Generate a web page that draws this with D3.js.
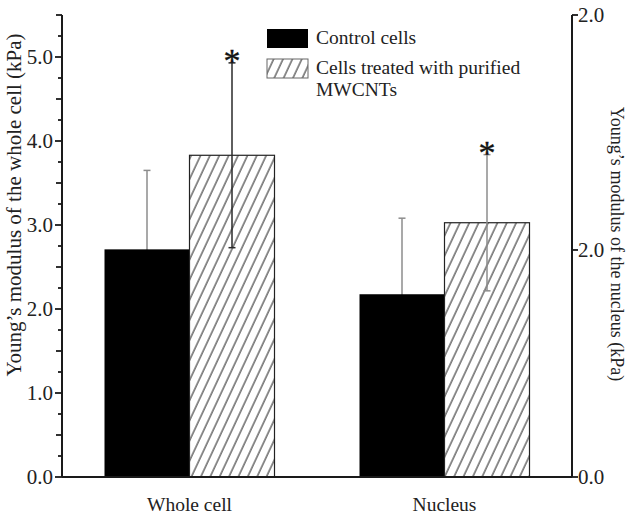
<!DOCTYPE html>
<html>
<head>
<meta charset="utf-8">
<script src="https://cdn.jsdelivr.net/npm/d3@7"></script>
<style>
  html, body { margin: 0; padding: 0; background: #fff; }
  svg { display: block; }
  svg text { font-family: "Liberation Serif", "Times New Roman", serif; }
</style>
</head>
<body>
<svg id="chart" width="636" height="522"></svg>
<script>
// ---- data ----
const categories = ["Whole cell", "Nucleus"];
const seriesNames = ["Control cells", "Cells treated with purified MWCNTs"];
// Whole cell values in kPa (left axis); nucleus values in right-axis units
const controlMeans = [2.71, 1.61];
const controlErrors = [0.94, 0.67];
const treatedMeans = [3.83, 2.24];
const treatedErrors = [1.10, 0.60];
const significant = [true, true];
const leftTickValues = [0, 1, 2, 3, 4, 5];
const leftTickLabels = ["0.0", "1.0", "2.0", "3.0", "4.0", "5.0"];
const rightTickValues = [0, 2, 4.07];
const rightTickLabels = ["0.0", "2.0", "2.0"];
const leftAxisTitle = "Young\u2019s modulus of the whole cell (kPa)";
const rightAxisTitle = "Young\u2019s modulus of the nucleus (kPa)";
const legendLines = [["Control cells"], ["Cells treated with purified", "MWCNTs"]];

// ---- layout ----
const svg = d3.select("#chart");
const L = 62, R = 572, T = 15, B = 477;

const yLeft = d3.scaleLinear().domain([0, 5.5]).range([B, T]);
const yRight = d3.scaleLinear().domain([0, 4.07]).range([B, T]);
const yScales = [yLeft, yRight];

const x0 = d3.scaleBand().domain(categories).range([L, R]).paddingInner(1/3).paddingOuter(1/6);
const x1 = d3.scaleBand().domain(seriesNames).range([0, x0.bandwidth()]);

// hatch pattern
const defs = svg.append("defs");
const pat = defs.append("pattern")
  .attr("id", "hatch").attr("patternUnits", "userSpaceOnUse")
  .attr("width", 8.5).attr("height", 10)
  .attr("patternTransform", "rotate(25)");
pat.append("rect").attr("width", 8.5).attr("height", 10).attr("fill", "#fff");
pat.append("line").attr("x1", 1).attr("y1", 0).attr("x2", 1).attr("y2", 10)
  .attr("stroke", "#1e1e1e").attr("stroke-width", 1);

const rows = categories.map((c, i) => ({
  cat: c, idx: i,
  vals: [
    { s: seriesNames[0], m: controlMeans[i], e: controlErrors[i] },
    { s: seriesNames[1], m: treatedMeans[i], e: treatedErrors[i] }
  ]
}));

const errColor = (ci, si) => (ci === 0 && si === 1) ? "#2a2a2a" : "#8c8c8c";

function drawErr(g, ci, si, d) {
  const y = yScales[ci];
  const cx = x0(categories[ci]) + x1(d.s) + x1.bandwidth() / 2;
  const col = errColor(ci, si);
  g.append("line").attr("x1", cx).attr("x2", cx)
    .attr("y1", y(d.m - d.e)).attr("y2", y(d.m + d.e))
    .attr("stroke", col).attr("stroke-width", 1.5);
  [d.m - d.e, d.m + d.e].forEach(v => {
    g.append("line").attr("x1", cx - 3.5).attr("x2", cx + 3.5)
      .attr("y1", y(v)).attr("y2", y(v))
      .attr("stroke", col).attr("stroke-width", 1.5);
  });
}

// control error bars (behind control bars)
const gErrBack = svg.append("g");
rows.forEach(r => drawErr(gErrBack, r.idx, 0, r.vals[0]));

// bars
const gBars = svg.append("g");
rows.forEach(r => {
  const y = yScales[r.idx];
  r.vals.forEach((d, si) => {
    gBars.append("rect")
      .attr("x", x0(r.cat) + x1(d.s))
      .attr("y", y(d.m))
      .attr("width", x1.bandwidth())
      .attr("height", y(0) - y(d.m))
      .attr("fill", si === 0 ? "#000" : "url(#hatch)")
      .attr("stroke", si === 0 ? "#000" : "#222")
      .attr("stroke-width", si === 0 ? 0 : 1.2);
  });
});

// treated error bars on top
const gErrFront = svg.append("g");
rows.forEach(r => drawErr(gErrFront, r.idx, 1, r.vals[1]));

// significance asterisks
rows.forEach(r => {
  if (!significant[r.idx]) return;
  const d = r.vals[1];
  const y = yScales[r.idx];
  const cx = x0(r.cat) + x1(d.s) + x1.bandwidth() / 2;
  svg.append("text").attr("x", cx).attr("y", y(d.m + d.e) + 9)
    .attr("text-anchor", "middle").attr("font-size", 34).attr("fill", "#111")
    .attr("stroke", "#111").attr("stroke-width", 0.4)
    .text("*");
});

// axes
const axisColor = "#1a1a1a";
// left axis
const leftMinor = d3.range(0, 5.5001, 0.25);
const gL = svg.append("g");
gL.append("line").attr("x1", L).attr("x2", L).attr("y1", T).attr("y2", B)
  .attr("stroke", axisColor).attr("stroke-width", 2);
leftMinor.forEach(v => {
  const major = Math.abs(v - Math.round(v)) < 1e-6;
  const half = Math.abs(v * 2 - Math.round(v * 2)) < 1e-6;
  const len = major ? 7 : (half ? 6 : 4);
  gL.append("line").attr("x1", L - len).attr("x2", L)
    .attr("y1", yLeft(v)).attr("y2", yLeft(v))
    .attr("stroke", axisColor).attr("stroke-width", 1.8);
});
leftTickValues.forEach((v, i) => {
  gL.append("text").attr("x", L - 9).attr("y", yLeft(v))
    .attr("dy", "0.35em").attr("text-anchor", "end")
    .attr("font-size", 21).attr("fill", "#222").text(leftTickLabels[i]);
});

// right axis
const gR = svg.append("g");
gR.append("line").attr("x1", R).attr("x2", R).attr("y1", T).attr("y2", B)
  .attr("stroke", axisColor).attr("stroke-width", 2);
rightTickValues.forEach((v, i) => {
  gR.append("line").attr("x1", R).attr("x2", R + 6)
    .attr("y1", yRight(v)).attr("y2", yRight(v))
    .attr("stroke", axisColor).attr("stroke-width", 1.8);
  gR.append("text").attr("x", R + 6).attr("y", yRight(v))
    .attr("dy", "0.35em").attr("text-anchor", "start")
    .attr("font-size", 21).attr("fill", "#222").text(rightTickLabels[i]);
});

// bottom axis line
svg.append("line").attr("x1", L).attr("x2", R).attr("y1", B).attr("y2", B)
  .attr("stroke", axisColor).attr("stroke-width", 2);

// category labels
categories.forEach(c => {
  svg.append("text").attr("x", x0(c) + x0.bandwidth() / 2).attr("y", 511)
    .attr("text-anchor", "middle").attr("font-size", 19.5).attr("fill", "#222").text(c);
});

// axis titles
svg.append("text")
  .attr("transform", "translate(14,205) rotate(-90)")
  .attr("text-anchor", "middle").attr("dominant-baseline", "central")
  .attr("font-size", 21).attr("fill", "#222").text(leftAxisTitle);
svg.append("text")
  .attr("transform", "translate(617,244) rotate(90)")
  .attr("text-anchor", "middle").attr("dominant-baseline", "central")
  .attr("font-size", 18).attr("fill", "#222").text(rightAxisTitle);

// legend
const lg = svg.append("g");
const lgX = 267, lgY = [29, 59];
seriesNames.forEach((s, i) => {
  lg.append("rect").attr("x", lgX).attr("y", lgY[i]).attr("width", 41).attr("height", 19)
    .attr("fill", i === 0 ? "#000" : "url(#hatch)")
    .attr("stroke", i === 0 ? "#000" : "#666").attr("stroke-width", i === 0 ? 0 : 1);
  legendLines[i].forEach((t, j) => {
    lg.append("text").attr("x", 316).attr("y", lgY[i] + 15 + j * 22)
      .attr("font-size", 19.5).attr("fill", "#222").text(t);
  });
});
</script>
</body>
</html>
